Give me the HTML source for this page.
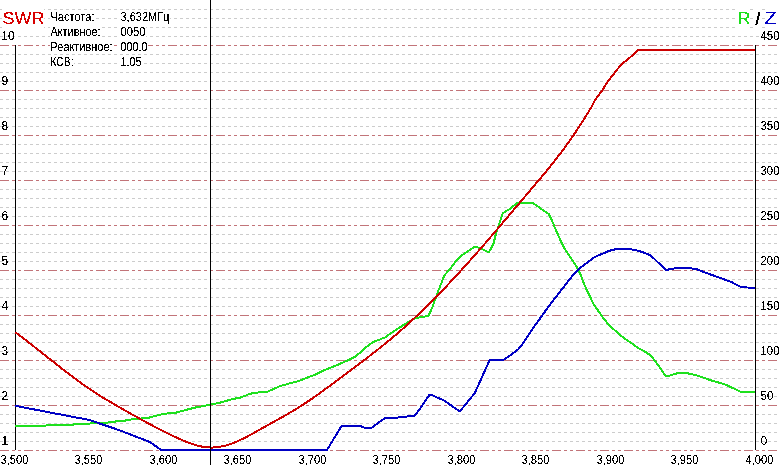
<!DOCTYPE html>
<html><head><meta charset="utf-8"><style>
html,body{margin:0;padding:0;background:#fff;width:780px;height:465px;overflow:hidden}
svg{display:block}
text{font-family:"Liberation Sans",sans-serif}
</style></head><body>
<svg width="780" height="465" viewBox="0 0 780 465">
<rect width="780" height="465" fill="#fff"/>
<defs><filter id="th" x="-10%" y="-30%" width="120%" height="160%"><feComponentTransfer><feFuncA type="discrete" tableValues="0 0 0 1 1 1 1"/></feComponentTransfer></filter><filter id="gb" x="0" y="-1" width="1" height="3" filterUnits="objectBoundingBox"><feGaussianBlur stdDeviation="0"/></filter></defs>
<path d="M0 9.5H780M0 18.5H780M0 27.5H780M0 36.5H780M0 54.5H780M0 63.5H780M0 72.5H780M0 81.5H780M0 99.5H780M0 108.5H780M0 117.5H780M0 126.5H780M0 144.5H780M0 153.5H780M0 162.5H780M0 171.5H780M0 189.5H780M0 198.5H780M0 207.5H780M0 216.5H780M0 234.5H780M0 243.5H780M0 252.5H780M0 261.5H780M0 279.5H780M0 288.5H780M0 297.5H780M0 306.5H780M0 324.5H780M0 333.5H780M0 342.5H780M0 351.5H780M0 369.5H780M0 378.5H780M0 387.5H780M0 396.5H780M0 414.5H780M0 423.5H780M0 432.5H780M0 441.5H780" stroke="#cccccc" stroke-width="1" stroke-dasharray="3 3" fill="none" />
<path d="M0 45.5H780M0 90.5H780M0 135.5H780M0 180.5H780M0 225.5H780M0 270.5H780M0 315.5H780M0 360.5H780M0 405.5H780M0 450.5H780" stroke="#c27479" stroke-width="1" stroke-dasharray="9 3 3 3 3 3" fill="none" />
<path d="M15.5 45V450M755.5 45V450" stroke="#000" stroke-width="1" fill="none"/>
<text x="1.25" y="40" font-family="Liberation Sans, sans-serif" font-size="12" fill="#000" filter="url(#th)">10</text>
<text x="1.5" y="85" font-family="Liberation Sans, sans-serif" font-size="12" fill="#000" filter="url(#th)">9</text>
<text x="1.5" y="130" font-family="Liberation Sans, sans-serif" font-size="12" fill="#000" filter="url(#th)">8</text>
<text x="1.5" y="175" font-family="Liberation Sans, sans-serif" font-size="12" fill="#000" filter="url(#th)">7</text>
<text x="1.5" y="220" font-family="Liberation Sans, sans-serif" font-size="12" fill="#000" filter="url(#th)">6</text>
<text x="1.5" y="265" font-family="Liberation Sans, sans-serif" font-size="12" fill="#000" filter="url(#th)">5</text>
<text x="1.5" y="310" font-family="Liberation Sans, sans-serif" font-size="12" fill="#000" filter="url(#th)">4</text>
<text x="1.5" y="355" font-family="Liberation Sans, sans-serif" font-size="12" fill="#000" filter="url(#th)">3</text>
<text x="1.5" y="400" font-family="Liberation Sans, sans-serif" font-size="12" fill="#000" filter="url(#th)">2</text>
<text x="1.5" y="445" font-family="Liberation Sans, sans-serif" font-size="12" fill="#000" filter="url(#th)">1</text>
<text x="760.5" y="40" font-family="Liberation Sans, sans-serif" font-size="12" fill="#000" textLength="19" lengthAdjust="spacingAndGlyphs" filter="url(#th)">450</text>
<text x="760.5" y="85" font-family="Liberation Sans, sans-serif" font-size="12" fill="#000" textLength="19" lengthAdjust="spacingAndGlyphs" filter="url(#th)">400</text>
<text x="760.5" y="130" font-family="Liberation Sans, sans-serif" font-size="12" fill="#000" textLength="19" lengthAdjust="spacingAndGlyphs" filter="url(#th)">350</text>
<text x="760.5" y="175" font-family="Liberation Sans, sans-serif" font-size="12" fill="#000" textLength="19" lengthAdjust="spacingAndGlyphs" filter="url(#th)">300</text>
<text x="760.5" y="220" font-family="Liberation Sans, sans-serif" font-size="12" fill="#000" textLength="19" lengthAdjust="spacingAndGlyphs" filter="url(#th)">250</text>
<text x="760.5" y="265" font-family="Liberation Sans, sans-serif" font-size="12" fill="#000" textLength="19" lengthAdjust="spacingAndGlyphs" filter="url(#th)">200</text>
<text x="760.5" y="310" font-family="Liberation Sans, sans-serif" font-size="12" fill="#000" textLength="19" lengthAdjust="spacingAndGlyphs" filter="url(#th)">150</text>
<text x="760.5" y="355" font-family="Liberation Sans, sans-serif" font-size="12" fill="#000" textLength="19" lengthAdjust="spacingAndGlyphs" filter="url(#th)">100</text>
<text x="760.5" y="400" font-family="Liberation Sans, sans-serif" font-size="12" fill="#000" textLength="13" lengthAdjust="spacingAndGlyphs" filter="url(#th)">50</text>
<text x="760.5" y="445" font-family="Liberation Sans, sans-serif" font-size="12" fill="#000" filter="url(#th)">0</text>
<text x="0.5" y="464" font-family="Liberation Sans, sans-serif" font-size="12" fill="#000" textLength="28" lengthAdjust="spacingAndGlyphs" filter="url(#th)">3,500</text>
<text x="74.5" y="464" font-family="Liberation Sans, sans-serif" font-size="12" fill="#000" textLength="28" lengthAdjust="spacingAndGlyphs" filter="url(#th)">3,550</text>
<text x="149.5" y="464" font-family="Liberation Sans, sans-serif" font-size="12" fill="#000" textLength="28" lengthAdjust="spacingAndGlyphs" filter="url(#th)">3,600</text>
<text x="223.5" y="464" font-family="Liberation Sans, sans-serif" font-size="12" fill="#000" textLength="28" lengthAdjust="spacingAndGlyphs" filter="url(#th)">3,650</text>
<text x="298.5" y="464" font-family="Liberation Sans, sans-serif" font-size="12" fill="#000" textLength="28" lengthAdjust="spacingAndGlyphs" filter="url(#th)">3,700</text>
<text x="372.5" y="464" font-family="Liberation Sans, sans-serif" font-size="12" fill="#000" textLength="28" lengthAdjust="spacingAndGlyphs" filter="url(#th)">3,750</text>
<text x="447.5" y="464" font-family="Liberation Sans, sans-serif" font-size="12" fill="#000" textLength="28" lengthAdjust="spacingAndGlyphs" filter="url(#th)">3,800</text>
<text x="521.5" y="464" font-family="Liberation Sans, sans-serif" font-size="12" fill="#000" textLength="28" lengthAdjust="spacingAndGlyphs" filter="url(#th)">3,850</text>
<text x="596.5" y="464" font-family="Liberation Sans, sans-serif" font-size="12" fill="#000" textLength="28" lengthAdjust="spacingAndGlyphs" filter="url(#th)">3,900</text>
<text x="670.5" y="464" font-family="Liberation Sans, sans-serif" font-size="12" fill="#000" textLength="28" lengthAdjust="spacingAndGlyphs" filter="url(#th)">3,950</text>
<text x="745.5" y="464" font-family="Liberation Sans, sans-serif" font-size="12" fill="#000" textLength="28" lengthAdjust="spacingAndGlyphs" filter="url(#th)">4,000</text>
<polyline points="15.0,425.8 45.4,425.8 47.0,424.7 73.0,424.7 76.0,423.5 90.0,423.5 105.0,423.0 113.6,421.7 126.5,420.4 136.0,418.6 146.3,418.4 156.6,415.6 164.3,413.7 175.4,412.8 185.6,410.0 195.9,407.4 210.3,404.7 221.5,402.3 231.8,399.2 240.0,397.7 250.4,393.7 259.6,392.2 266.8,391.9 270.0,390.6 279.7,386.3 289.4,383.4 299.0,381.0 306.8,377.8 315.0,374.7 325.0,369.9 336.8,365.2 348.7,359.9 355.8,356.3 360.5,352.2 370.0,343.9 374.7,341.5 385.0,337.4 391.8,332.6 403.7,324.9 415.5,317.8 419.0,317.5 428.5,316.0 432.1,307.8 435.6,298.3 438.6,290.0 442.8,279.5 444.4,275.4 450.5,268.2 457.7,259.0 463.8,253.8 471.0,249.2 474.1,247.0 477.2,247.2 483.3,249.7 488.5,252.3 490.5,249.7 493.6,243.1 495.8,234.4 502.9,213.1 509.4,209.2 517.7,202.7 532.6,202.7 539.0,207.3 545.5,211.8 548.8,214.0 551.8,220.1 555.5,229.1 560.1,239.6 564.6,248.7 570.6,257.7 576.6,266.7 580.4,274.3 584.7,285.5 593.4,303.8 602.1,316.4 608.9,325.1 623.4,337.7 638.8,348.3 645.8,352.1 650.6,355.5 654.5,360.3 660.3,368.1 665.2,375.6 669.0,375.8 674.9,373.9 678.7,372.9 685.5,372.9 691.3,374.1 698.1,375.8 712.3,380.8 724.6,384.2 740.8,391.8 755.0,391.8" stroke="#1ee01e" stroke-width="2" fill="none" stroke-linejoin="round" shape-rendering="crispEdges"/>
<polyline points="15.0,405.8 89.5,420.0 100.4,423.8 118.8,430.0 149.6,441.9 155.8,446.2 161.2,450.0 327.0,450.0 341.5,426.0 360.0,426.0 365.6,428.0 371.3,428.0 385.0,418.0 400.3,417.4 415.3,415.4 429.5,394.8 432.7,395.5 443.7,400.3 459.2,411.0 460.5,410.6 474.7,393.2 489.6,360.2 502.9,360.2 510.6,355.0 518.3,349.4 523.1,343.1 534.5,326.2 550.6,303.7 562.5,288.6 573.6,274.3 579.6,268.3 588.7,261.5 594.7,257.0 605.1,252.6 608.3,251.2 613.0,249.8 618.6,248.7 628.8,248.9 633.0,249.7 637.0,250.4 643.2,252.3 650.9,255.6 658.6,263.0 665.8,270.0 677.2,267.9 688.0,268.0 696.8,269.2 707.7,273.5 720.8,278.1 731.7,282.2 740.4,286.8 747.0,287.5 755.0,287.7" stroke="#0000c4" stroke-width="2" fill="none" stroke-linejoin="round" shape-rendering="crispEdges"/>
<polyline points="15.4,332.3 18.4,334.5 21.4,336.8 24.4,339.1 27.4,341.4 30.4,343.7 33.4,346.1 36.4,348.5 39.4,350.8 42.4,353.2 45.4,355.6 48.4,358.0 51.4,360.3 54.4,362.7 57.4,365.1 60.4,367.4 63.4,369.8 66.4,372.1 69.4,374.4 72.4,376.6 75.4,378.9 78.4,381.1 81.4,383.3 84.4,385.4 87.4,387.5 90.4,389.5 93.4,391.6 96.4,393.5 99.4,395.4 102.4,397.3 105.4,399.1 108.4,400.8 111.4,402.6 114.4,404.3 117.4,406.1 120.4,407.8 123.4,409.5 126.4,411.3 129.4,413.0 132.4,414.7 135.4,416.3 138.4,418.0 141.4,419.7 144.4,421.3 147.4,422.9 150.4,424.5 153.4,426.1 156.4,427.7 159.4,429.2 162.4,430.8 165.4,432.3 168.4,433.8 171.4,435.2 174.4,436.6 177.4,438.0 180.4,439.3 183.4,440.6 186.4,441.8 189.4,443.0 192.4,444.0 195.4,445.0 198.4,445.8 201.4,446.5 204.4,447.0 207.4,447.3 210.4,447.5 213.4,447.5 216.4,447.3 219.4,446.9 222.4,446.3 225.4,445.6 228.4,444.7 231.4,443.7 234.4,442.6 237.4,441.3 240.4,439.9 243.4,438.5 246.4,437.0 249.4,435.4 252.4,433.8 255.4,432.1 258.4,430.4 261.4,428.7 264.4,427.1 267.4,425.4 270.4,423.7 273.4,422.1 276.4,420.4 279.4,418.7 282.4,417.0 285.4,415.3 288.4,413.6 291.4,411.8 294.4,410.1 297.4,408.2 300.4,406.3 303.4,404.4 306.4,402.4 309.4,400.4 312.4,398.4 315.4,396.3 318.4,394.2 321.4,392.0 324.4,389.8 327.4,387.6 330.4,385.4 333.4,383.2 336.4,381.0 339.4,378.7 342.4,376.5 345.4,374.2 348.4,372.0 351.4,369.7 354.4,367.5 357.4,365.2 360.4,362.9 363.4,360.7 366.4,358.4 369.4,356.1 372.4,353.8 375.4,351.5 378.4,349.1 381.4,346.7 384.4,344.3 387.4,341.9 390.4,339.4 393.4,336.9 396.4,334.3 399.4,331.7 402.4,329.1 405.4,326.4 408.4,323.7 411.4,320.9 414.4,318.1 417.4,315.3 420.4,312.4 423.4,309.5 426.4,306.6 429.4,303.6 432.4,300.6 435.4,297.6 438.4,294.5 441.4,291.4 444.4,288.3 447.4,285.2 450.4,282.0 453.4,278.8 456.4,275.5 459.4,272.3 462.4,269.0 465.4,265.7 468.4,262.3 471.4,259.0 474.4,255.6 477.4,252.2 480.4,248.8 483.4,245.3 486.4,241.9 489.4,238.4 492.4,234.9 495.4,231.4 498.4,227.9 501.4,224.4 504.4,220.8 507.4,217.3 510.4,213.7 513.4,210.2 516.4,206.6 519.4,203.1 522.4,199.5 525.4,196.0 528.4,192.5 531.4,188.9 534.4,185.4 537.4,181.8 540.4,178.3 543.4,174.7 546.4,171.1 549.4,167.4 552.4,163.7 555.4,159.9 558.4,156.0 561.4,152.1 564.4,148.1 567.4,143.9 570.4,139.7 573.4,135.4 576.4,130.9 579.4,126.3 582.4,121.6 585.4,116.9 588.4,112.0 591.4,107.2 595.5,99.2 602.3,90.2 607.6,81.9 615.1,72.1 621.9,63.8 628.7,58.6 638.5,49.8 755.0,49.8" stroke="#cc0000" stroke-width="2" fill="none" stroke-linejoin="round" shape-rendering="crispEdges"/>
<path d="M210.5 0V465" stroke="#000" stroke-width="1"/>
<rect x="2" y="9" width="42" height="19" fill="#fff"/>
<text x="2.5" y="24" font-family="Liberation Sans, sans-serif" font-size="17" fill="#d80000" textLength="42" lengthAdjust="spacingAndGlyphs" filter="url(#th)">SWR</text>
<rect x="50" y="10" width="45" height="13" fill="#fff"/>
<text x="50.5" y="21" font-family="Liberation Sans, sans-serif" font-size="12" fill="#000" textLength="44" lengthAdjust="spacingAndGlyphs" filter="url(#th)">Частота:</text>
<rect x="120" y="10" width="50" height="13" fill="#fff"/>
<text x="120.5" y="21" font-family="Liberation Sans, sans-serif" font-size="12" fill="#000" textLength="49" lengthAdjust="spacingAndGlyphs" filter="url(#th)">3,632МГц</text>
<rect x="50" y="25" width="51" height="13" fill="#fff"/>
<text x="50.5" y="36" font-family="Liberation Sans, sans-serif" font-size="12" fill="#000" textLength="50" lengthAdjust="spacingAndGlyphs" filter="url(#th)">Активное:</text>
<rect x="120" y="25" width="26" height="13" fill="#fff"/>
<text x="120.5" y="36" font-family="Liberation Sans, sans-serif" font-size="12" fill="#000" textLength="25" lengthAdjust="spacingAndGlyphs" filter="url(#th)">0050</text>
<rect x="50" y="40" width="63" height="13" fill="#fff"/>
<text x="50.5" y="51" font-family="Liberation Sans, sans-serif" font-size="12" fill="#000" textLength="62" lengthAdjust="spacingAndGlyphs" filter="url(#th)">Реактивное:</text>
<rect x="120" y="40" width="28" height="13" fill="#fff"/>
<text x="120.5" y="51" font-family="Liberation Sans, sans-serif" font-size="12" fill="#000" textLength="27" lengthAdjust="spacingAndGlyphs" filter="url(#th)">000.0</text>
<rect x="50" y="55" width="24" height="13" fill="#fff"/>
<text x="50.5" y="66" font-family="Liberation Sans, sans-serif" font-size="12" fill="#000" textLength="23" lengthAdjust="spacingAndGlyphs" filter="url(#th)">КСВ:</text>
<rect x="120" y="55" width="22" height="13" fill="#fff"/>
<text x="120.5" y="66" font-family="Liberation Sans, sans-serif" font-size="12" fill="#000" textLength="21" lengthAdjust="spacingAndGlyphs" filter="url(#th)">1.05</text>
<rect x="736" y="9" width="14" height="19" fill="#fff"/>
<rect x="753" y="9" width="9" height="19" fill="#fff"/>
<rect x="765" y="9" width="15" height="19" fill="#fff"/>
<text x="737.5" y="24" font-family="Liberation Sans, sans-serif" font-size="17" fill="#1ee01e" textLength="13" lengthAdjust="spacingAndGlyphs" filter="url(#th)">R</text>
<path d="M758 12h2v4h-2zM757 16h2v4h-2zM756 20h2v4h-2zM755 24h2v1h-2z" fill="#000"/>
<text x="764.5" y="24" font-family="Liberation Sans, sans-serif" font-size="17" fill="#0000c4" textLength="12" lengthAdjust="spacingAndGlyphs" filter="url(#th)">Z</text>
</svg>
</body></html>
